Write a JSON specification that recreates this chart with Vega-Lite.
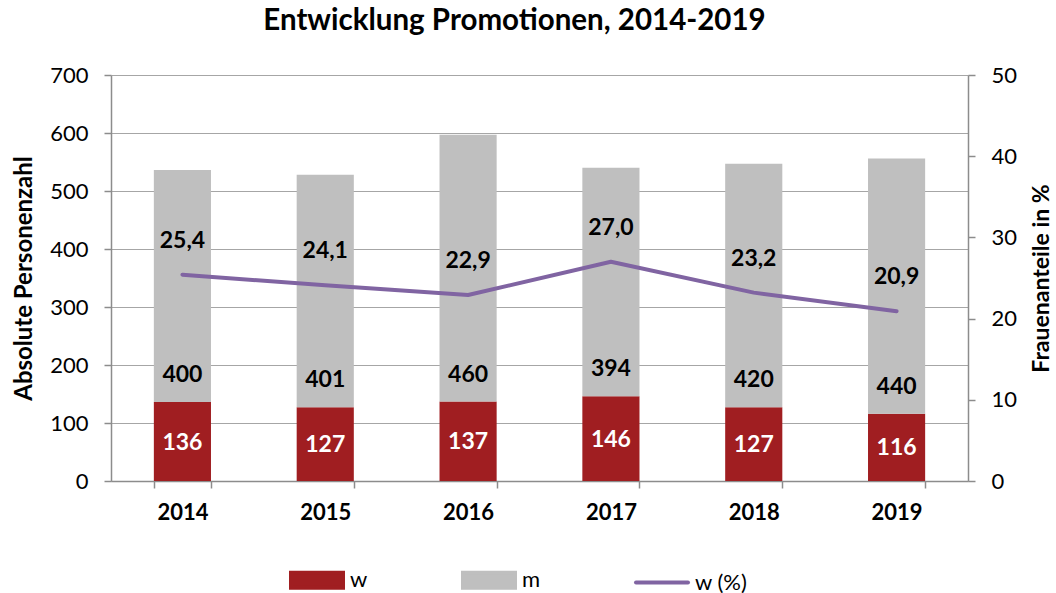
{
  "$schema": "https://vega.github.io/schema/vega-lite/v6.json",
  "width": 857,
  "height": 406,
  "autosize": "none",
  "padding": {"left": 111, "top": 75, "right": 88, "bottom": 112},
  "background": "white",
  "config": {
    "font": "Lato",
    "view": {"stroke": null},
    "locale": {"number": {"decimal": ",", "thousands": ".", "grouping": [3], "currency": ["", " €"]}},
    "axis": {
      "labelFont": "Lato",
      "labelFontSize": 22,
      "labelColor": "#000000",
      "titleFont": "Lato",
      "titleFontSize": 24,
      "titleFontWeight": "bold",
      "titleColor": "#000000",
      "domainColor": "#8C8C8C",
      "domainWidth": 1.5,
      "tickColor": "#8C8C8C",
      "tickWidth": 1.5,
      "tickSize": 7,
      "gridColor": "#A6A6A6",
      "gridWidth": 1.2
    }
  },
  "title": {
    "text": "Entwicklung Promotionen, 2014-2019",
    "font": "Lato",
    "fontSize": 29.5,
    "fontWeight": "bold",
    "color": "#000000",
    "anchor": "middle",
    "offset": 28,
    "dx": -25
  },
  "data": {
    "values": [
      {"year": "2014", "w": 136, "m": 400, "pct": 25.4},
      {"year": "2015", "w": 127, "m": 401, "pct": 24.1},
      {"year": "2016", "w": 137, "m": 460, "pct": 22.9},
      {"year": "2017", "w": 146, "m": 394, "pct": 27.0},
      {"year": "2018", "w": 127, "m": 420, "pct": 23.2},
      {"year": "2019", "w": 116, "m": 440, "pct": 20.9}
    ]
  },
  "encoding": {
    "x": {
      "field": "year",
      "type": "nominal",
      "scale": {"paddingInner": 0.6, "paddingOuter": 0.3},
      "axis": {
        "title": null,
        "labelAngle": 0,
        "labelFontWeight": "bold",
        "labelPadding": 14,
        "tickBand": "extent",
        "grid": false
      }
    }
  },
  "layer": [
    {
      "layer": [
        {
          "transform": [{"fold": ["w", "m"], "as": ["series", "value"]}],
          "mark": {"type": "bar"},
          "encoding": {
            "y": {
              "field": "value",
              "type": "quantitative",
              "stack": "zero",
              "scale": {"domain": [0, 700], "nice": false},
              "axis": {
                "title": "Absolute Personenzahl",
                "values": [0, 100, 200, 300, 400, 500, 600, 700],
                "grid": true,
                "labelPadding": 16,
                "titlePadding": 13
              }
            },
            "order": {"field": "series", "sort": "descending"},
            "color": {
              "field": "series",
              "type": "nominal",
              "scale": {"domain": ["w", "m", "w (%)"], "range": ["#A01E21", "#BFBFBF", "#8064A2"]},
              "legend": {
                "orient": "none",
                "legendX": 194,
                "legendY": 493,
                "direction": "horizontal",
                "title": null,
                "symbolSize": 400,
                "labelFont": "Lato",
                "labelFontSize": 22,
                "labelColor": "#000000",
                "labelOffset": 21,
                "columnPadding": 87,
                "encode": {
                  "symbols": {
                    "update": {
                      "shape": {"signal": "datum.value === 'w (%)' ? 'M-2.6,0H2.6' : 'M-2.6,-0.75H2.6V0.75H-2.6Z'"},
                      "fill": {"signal": "datum.value === 'w (%)' ? 'transparent' : scale('color', datum.value)"},
                      "stroke": {"signal": "datum.value === 'w (%)' ? scale('color', datum.value) : 'transparent'"},
                      "strokeWidth": {"value": 4},
                      "strokeCap": {"value": "round"},
                      "opacity": {"value": 1}
                    }
                  }
                }
              }
            }
          }
        },
        {
          "mark": {"type": "text", "fontWeight": "bold", "fontSize": 23, "font": "Lato", "color": "#000000", "baseline": "middle", "dy": -27},
          "encoding": {
            "y": {"field": "w", "type": "quantitative"},
            "text": {"field": "m", "type": "quantitative"}
          }
        },
        {
          "transform": [{"calculate": "datum.w / 2", "as": "wmid"}],
          "mark": {"type": "text", "fontWeight": "bold", "fontSize": 23, "font": "Lato", "color": "#FFFFFF", "baseline": "middle", "dy": 1},
          "encoding": {
            "y": {"field": "wmid", "type": "quantitative"},
            "text": {"field": "w", "type": "quantitative"}
          }
        }
      ]
    },
    {
      "layer": [
        {
          "mark": {"type": "line", "strokeWidth": 4, "strokeCap": "round", "strokeJoin": "round"},
          "encoding": {
            "y": {
              "field": "pct",
              "type": "quantitative",
              "scale": {"domain": [0, 50], "nice": false},
              "axis": {
                "orient": "right",
                "title": "Frauenanteile in %",
                "titleAngle": -90,
                "titleBaseline": "top",
                "titleFontSize": 23,
                "values": [0, 10, 20, 30, 40, 50],
                "grid": false,
                "labelPadding": 16,
                "titlePadding": 14
              }
            },
            "color": {"datum": "w (%)"}
          }
        },
        {
          "mark": {"type": "text", "fontWeight": "bold", "fontSize": 23, "font": "Lato", "color": "#000000", "baseline": "middle", "dy": -34},
          "encoding": {
            "y": {"field": "pct", "type": "quantitative"},
            "text": {"field": "pct", "type": "quantitative", "format": ".1f"}
          }
        }
      ]
    }
  ],
  "resolve": {"scale": {"y": "independent"}}
}
